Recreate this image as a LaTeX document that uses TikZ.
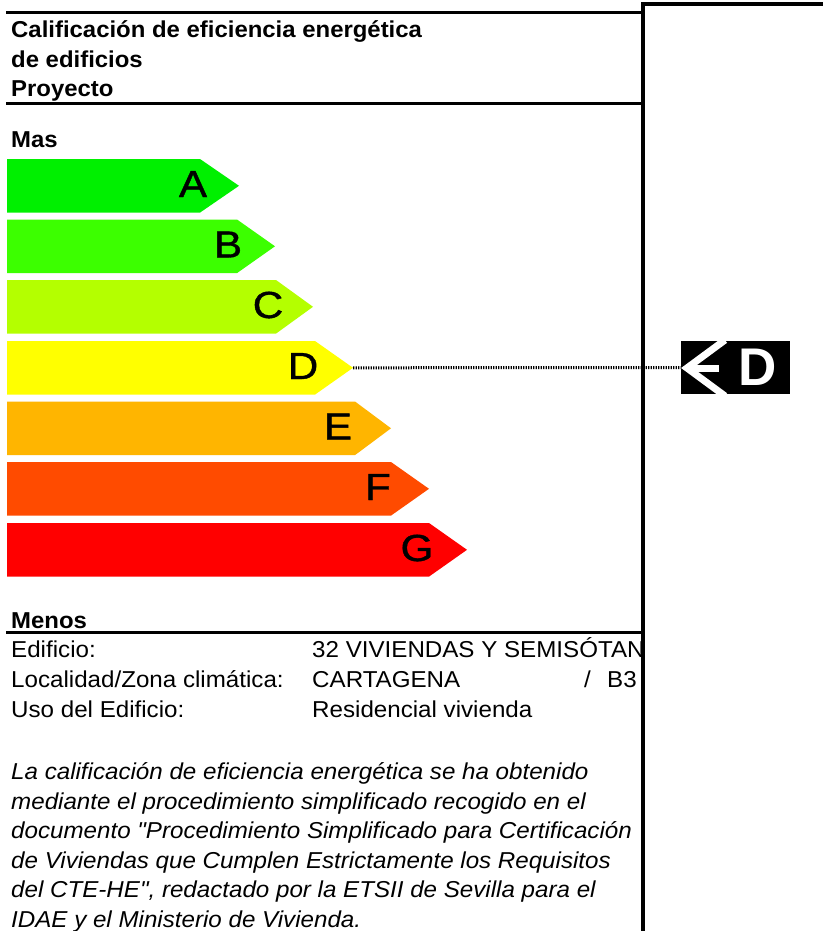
\documentclass[tikz,border=0pt]{standalone}
\usepackage{fontspec}
\setmainfont[Ligatures=TeXOff]{Liberation Sans}
\definecolor{colA}{HTML}{00F000}
\definecolor{colB}{HTML}{3CFF00}
\definecolor{colC}{HTML}{B4FF00}
\definecolor{colD}{HTML}{FFFF00}
\definecolor{colE}{HTML}{FFB500}
\definecolor{colF}{HTML}{FF4B00}
\definecolor{colG}{HTML}{FF0000}
\tikzset{
  txt/.style={anchor=base west, inner sep=0pt, xscale=1.05, font=\fontsize{23}{27}\selectfont},
  btxt/.style={anchor=base west, inner sep=0pt, xscale=1.04, font=\fontsize{23}{27}\selectfont\bfseries},
  itxt/.style={txt, font=\fontsize{23}{27}\selectfont\itshape},
  rulel/.style={line width=3pt},
  barletter/.style={anchor=base, inner sep=0pt, xscale=1.12, font=\fontsize{37.7}{40}\selectfont\addfontfeatures{FakeBold=1}},
}
\newcommand{\energybar}[6]{% name, color, top, bodyend, tip, letter x
  \fill[#2] (7,#3) -- (#4,#3) -- (#5,#3+26.8) -- (#4,#3+53.6) -- (7,#3+53.6) -- cycle;
  \coordinate (#1tip) at (#5,#3+26.8);
  \node[barletter] (#1let) at (#6,#3+38) {#1};
}
\begin{document}
\begin{tikzpicture}[x=1pt,y=-1pt]
\useasboundingbox (0,0) rectangle (823,931);
\fill[white] (0,0) rectangle (823,931);
% header texts
\node[btxt] (t1) at (11,38) {Calificación de eficiencia energética};
\node[btxt] (t2) at (11,67.5) {de edificios};
\node[btxt] (t3) at (11,96.5) {Proyecto};
\node[btxt] (mas) at (11,147.5) {Mas};
% bars
\energybar{A}{colA}{159}{200}{239}{193}
\energybar{B}{colB}{219.5}{237}{275}{228}
\energybar{C}{colC}{280}{276}{313}{268}
\energybar{D}{colD}{341}{315}{353}{303}
\energybar{E}{colE}{401.5}{355}{391}{338}
\energybar{F}{colF}{462}{391}{429}{378}
\energybar{G}{colG}{523}{429}{467}{417}
% marker
\node[fill=black, minimum width=109pt, minimum height=53pt, inner sep=0pt] (dmark) at (735.5,367.5) {};
\begin{scope}
  \clip (dmark.south west) rectangle (dmark.north east);
  \draw[white, line width=7pt] (686,368) -- (719,368);
  \draw[white, line width=7pt, line join=miter, miter limit=10] (725,340) -- (687,368) -- (725,396);
\end{scope}
\node[anchor=base, inner sep=0pt, text=white, font=\fontsize{53}{56}\selectfont\bfseries] (dlet) at (758,385) {D};
\draw[line width=3pt, dash pattern=on 1.3pt off 1.2pt] (Dtip) -- (dmark.west);
% lower texts
\node[btxt] (menos) at (11,628) {Menos};
\node[txt] (r1a) at (11,657.5) {Edificio:};
\node[txt] (r2a) at (11,687.5) {Localidad/Zona climática:};
\node[txt] (r3a) at (11,717) {Uso del Edificio:};
\begin{scope}
  \clip (0,600) rectangle (642,725);
  \node[txt] (r1b) at (312,657.5) {32 VIVIENDAS Y SEMISÓTAN};
  \node[txt] (r2b) at (312,687.5) {CARTAGENA};
  \node[txt] (r2c) at (584,687.5) {/};
  \node[txt] (r2d) at (607,687.5) {B3};
  \node[txt] (r3b) at (312,717) {Residencial vivienda};
\end{scope}
\node[itxt] (p1) at (11,779.5) {La calificación de eficiencia energética se ha obtenido};
\node[itxt] (p2) at (11,809.0) {mediante el procedimiento simplificado recogido en el};
\node[itxt] (p3) at (11,838.5) {documento "Procedimiento Simplificado para Certificación};
\node[itxt] (p4) at (11,868.0) {de Viviendas que Cumplen Estrictamente los Requisitos};
\node[itxt] (p5) at (11,897.5) {del CTE-HE", redactado por la ETSII de Sevilla para el};
\node[itxt] (p6) at (11,927.0) {IDAE y el Ministerio de Vivienda.};
% rules
\draw[rulel] (6,12.3) -- (643,12.3);
\draw[rulel] (6,103.3) -- (643,103.3);
\draw[rulel] (6,632.5) -- (643,632.5);
\draw[line width=3.3pt] (643,4) -- (823,4);
\draw[line width=3.3pt] (643,2.35) -- (643,931);
\end{tikzpicture}
\end{document}
